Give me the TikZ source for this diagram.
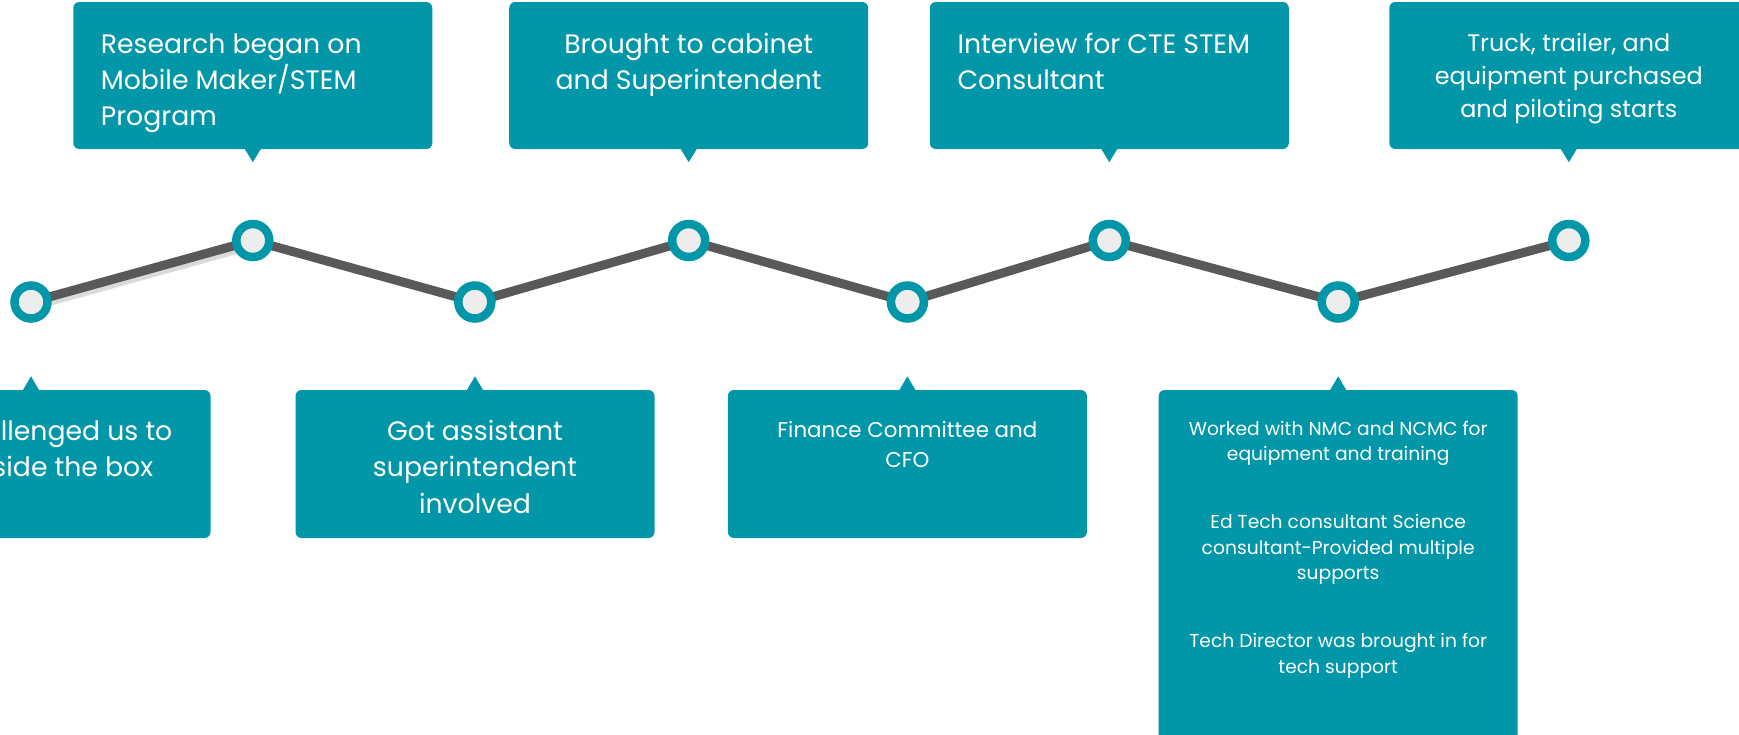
\documentclass[tikz,border=0pt]{standalone}
\usepackage{fontspec}
\setmainfont{Poppins}
\usetikzlibrary{backgrounds}
\definecolor{tealbox}{RGB}{2,151,168}
\definecolor{linegray}{RGB}{89,89,89}
\definecolor{dotfill}{RGB}{237,237,237}
\newcommand\blockc[1]{\parbox[t]{420pt}{\centering #1}}
\newcommand\blockl[1]{\parbox[t]{420pt}{\raggedright #1}}
\begin{document}
\begin{tikzpicture}[x=1pt,y=-1pt,
  callout/.style={fill=tealbox, draw=none, rounded corners=6pt, minimum width=359pt, inner sep=0pt},
  dot/.style={circle, fill=dotfill, draw=tealbox, line width=8.5pt, minimum size=33pt, inner sep=0pt},
  txt/.style={text=white, inner sep=0pt},
  big/.style={font=\fontsize{26.7}{36}\selectfont},
  mid/.style={font=\fontsize{26.7}{36.5}\selectfont},
  tpt/.style={fill=tealbox}]
\useasboundingbox (0,0) rectangle (1739,734);
% top callouts
\node[callout, minimum height=147pt] (b1) at (252.8,75.5) {};
\node[callout, minimum height=147pt] (b3) at (688.7,75.5) {};
\node[callout, minimum height=147pt] (b5) at (1109.3,75.5) {};
\node[callout, minimum height=147pt] (b7) at (1568.8,75.5) {};
% bottom callouts
\node[callout, minimum height=148pt] (b0) at (31,464) {};
\node[callout, minimum height=148pt] (b2) at (475,464) {};
\node[callout, minimum height=148pt] (b4) at (907.4,464) {};
\node[callout, minimum height=380pt] (b6) at (1338.2,580) {};
% pointers
\foreach \b in {b1,b3,b5,b7}{
  \fill[tpt] ([xshift=-8.5pt,yshift=1pt]\b.south) -- ([xshift=8.5pt,yshift=1pt]\b.south) -- ([yshift=-13pt]\b.south) -- cycle;}
\foreach \b in {b0,b2,b4,b6}{
  \fill[tpt] ([xshift=-8.5pt,yshift=-1pt]\b.north) -- ([xshift=8.5pt,yshift=-1pt]\b.north) -- ([yshift=13.5pt]\b.north) -- cycle;}
% dots
\node[dot] (n0) at (31,302) {};
\node[dot] (n1) at (252.8,240.5) {};
\node[dot] (n2) at (474.8,302) {};
\node[dot] (n3) at (688.7,240.5) {};
\node[dot] (n4) at (907.4,302) {};
\node[dot] (n5) at (1109.3,240.5) {};
\node[dot] (n6) at (1338.2,302) {};
\node[dot] (n7) at (1568.8,240.5) {};
\begin{scope}[on background layer]
  \foreach \w/\s in {12/3,9/4,6/5.5}{
    \draw[black, opacity=0.05, line width=\w pt] ([xshift=1pt,yshift=-\s pt]n0.center) -- ([xshift=1pt,yshift=-\s pt]n1.center);}
  \draw[linegray, line width=9pt, line join=round] (n0.center) -- (n1.center) -- (n2.center) -- (n3.center) -- (n4.center) -- (n5.center) -- (n6.center) -- (n7.center);
\end{scope}
% texts
\node[txt, big, anchor=base west] (t1) at (100.6,53) {\blockl{Research began on\\Mobile Maker/STEM\\Program}};
\node[txt, big, anchor=base] (t3) at (688.7,53) {\blockc{Brought to cabinet\\and Superintendent}};
\node[txt, big, anchor=base west] (t5) at (957.3,53) {\blockl{Interview for CTE STEM\\Consultant}};
\node[txt, font=\fontsize{23.9}{33}\selectfont, anchor=base] (t7) at (1568.8,51.7) {\blockc{Truck, trailer, and\\equipment purchased\\and piloting starts}};
\node[txt, mid, anchor=base west] (t0a) at (0.6,440) {llenged us to};
\node[txt, mid, anchor=base east] (t0b) at (153.3,476.7) {side the box};
\node[txt, mid, anchor=base] (t2) at (475,440) {\blockc{Got assistant\\superintendent\\involved}};
\node[txt, font=\fontsize{21.4}{30.4}\selectfont, anchor=base] (t4) at (907.4,437.3) {\blockc{Finance Committee and\\CFO}};
\node[txt, font=\fontsize{18.7}{25.7}\selectfont, anchor=base] (t6) at (1338.2,435) {\blockc{Worked with NMC and NCMC for\\equipment and training\\[42pt]Ed Tech consultant Science\\consultant-Provided multiple\\supports\\[42pt]Tech Director was brought in for\\tech support}};
\end{tikzpicture}
\end{document}
